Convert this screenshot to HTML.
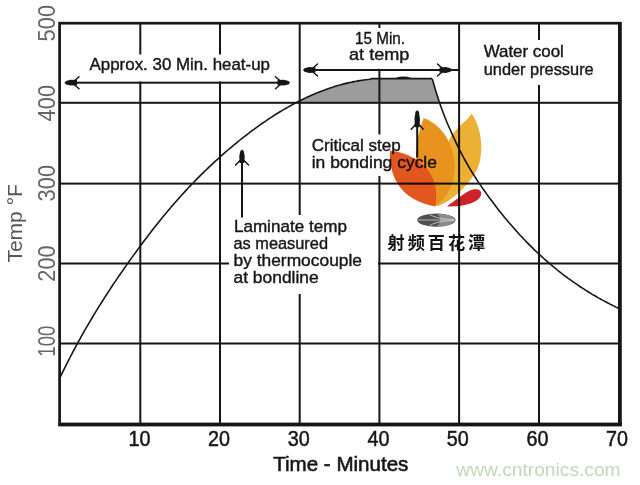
<!DOCTYPE html>
<html><head><meta charset="utf-8"><style>
html,body{margin:0;padding:0;background:#fff;}
svg{display:block;}
text{font-family:'Liberation Sans',sans-serif;}
</style></head><body>
<svg width="640" height="485" viewBox="0 0 640 485">
<rect width="640" height="485" fill="#fff"/>
<path d="M300.0,102.8 300.0,100.7 302.0,99.7 304.0,98.7 306.0,97.8 308.0,96.8 310.0,95.9 312.0,95.0 314.0,94.2 316.0,93.3 318.0,92.5 320.0,91.7 322.0,90.9 324.0,90.2 326.0,89.4 328.0,88.7 330.0,88.1 332.0,87.4 334.0,86.8 336.0,86.1 338.0,85.5 340.0,85.0 342.0,84.4 344.0,83.9 346.0,83.4 348.0,82.9 350.0,82.5 352.0,82.1 354.0,81.6 356.0,81.3 358.0,80.9 360.0,80.6 362.0,80.3 364.0,80.0 366.0,79.7 368.0,79.5 370.0,79.3 372.0,78.6 374.0,78.6 376.0,78.6 378.0,78.6 380.0,78.6 432.4,78.6 432.4,79.1 433.9,84.5 435.4,89.7 436.9,94.6 438.4,99.3 438.8,102.8 Z" fill="#9c9c9c"/>
<rect x="139.3" y="22" width="2" height="402" fill="#161616"/>
<rect x="219.0" y="22" width="2" height="402" fill="#161616"/>
<rect x="298.7" y="22" width="2" height="402" fill="#161616"/>
<rect x="378.4" y="22" width="2" height="402" fill="#161616"/>
<rect x="458.1" y="22" width="2" height="402" fill="#161616"/>
<rect x="538.0" y="22" width="2" height="402" fill="#161616"/>
<rect x="59" y="101.8" width="561" height="2" fill="#161616"/>
<rect x="59" y="182.6" width="561" height="2" fill="#161616"/>
<rect x="59" y="262.5" width="561" height="2" fill="#161616"/>
<rect x="59" y="342.5" width="561" height="2" fill="#161616"/>
<rect x="84.0" y="54.5" width="192.0" height="27.0" fill="#fff"/>
<rect x="342.0" y="28.0" width="76.0" height="40.8" fill="#fff"/>
<rect x="478.0" y="40.0" width="120.0" height="45.0" fill="#fff"/>
<rect x="305.0" y="134.5" width="135.0" height="41.5" fill="#fff"/>
<rect x="229.0" y="215.0" width="149.0" height="79.0" fill="#fff"/>
<path d="M60.0,377.5 62.0,373.4 64.0,369.3 66.0,365.3 68.0,361.4 70.0,357.5 72.0,353.6 74.0,349.9 76.0,346.1 78.0,342.4 80.0,338.8 82.0,335.2 84.0,331.7 86.0,328.2 88.0,324.8 90.0,321.4 92.0,318.0 94.0,314.7 96.0,311.4 98.0,308.1 100.0,304.9 102.0,301.8 104.0,298.6 106.0,295.5 108.0,292.4 110.0,289.4 112.0,286.3 114.0,283.3 116.0,280.4 118.0,277.4 120.0,274.5 122.0,271.6 124.0,268.7 126.0,265.9 128.0,263.0 130.0,260.2 132.0,257.4 134.0,254.6 136.0,251.9 138.0,249.1 140.0,246.4 142.0,243.7 144.0,241.1 146.0,238.4 148.0,235.8 150.0,233.2 152.0,230.6 154.0,228.0 156.0,225.5 158.0,223.0 160.0,220.5 162.0,218.0 164.0,215.6 166.0,213.2 168.0,210.8 170.0,208.4 172.0,206.1 174.0,203.8 176.0,201.5 178.0,199.2 180.0,197.0 182.0,194.8 184.0,192.6 186.0,190.4 188.0,188.3 190.0,186.1 192.0,184.0 194.0,182.0 196.0,179.9 198.0,177.9 200.0,175.9 202.0,173.9 204.0,171.9 206.0,170.0 208.0,168.1 210.0,166.2 212.0,164.3 214.0,162.4 216.0,160.6 218.0,158.8 220.0,157.0 222.0,155.2 224.0,153.4 226.0,151.7 228.0,150.0 230.0,148.3 232.0,146.6 234.0,144.9 236.0,143.3 238.0,141.6 240.0,140.0 242.0,138.4 244.0,136.9 246.0,135.3 248.0,133.8 250.0,132.2 252.0,130.7 254.0,129.3 256.0,127.8 258.0,126.4 260.0,124.9 262.0,123.5 264.0,122.1 266.0,120.8 268.0,119.4 270.0,118.1 272.0,116.8 274.0,115.5 276.0,114.2 278.0,113.0 280.0,111.8 282.0,110.6 284.0,109.4 286.0,108.2 288.0,107.1 290.0,106.0 292.0,104.9 294.0,103.8 296.0,102.7 298.0,101.7 300.0,100.7 302.0,99.7 304.0,98.7 306.0,97.8 308.0,96.8 310.0,95.9 312.0,95.0 314.0,94.2 316.0,93.3 318.0,92.5 320.0,91.7 322.0,90.9 324.0,90.2 326.0,89.4 328.0,88.7 330.0,88.1 332.0,87.4 334.0,86.8 336.0,86.1 338.0,85.5 340.0,85.0 342.0,84.4 344.0,83.9 346.0,83.4 348.0,82.9 350.0,82.5 352.0,82.1 354.0,81.6 356.0,81.3 358.0,80.9 360.0,80.6 362.0,80.3 364.0,80.0 366.0,79.7 368.0,79.5 370.0,79.3 372.0,78.6 374.0,78.6 376.0,78.6 378.0,78.6 380.0,78.6 L432.4,78.6" fill="none" stroke="#161616" stroke-width="1.6" stroke-linejoin="round"/>
<path d="M432.4,79.1 433.9,84.5 435.4,89.7 436.9,94.6 438.4,99.3 439.9,103.8 441.4,108.0 442.9,112.1 444.4,116.0 445.9,119.8 447.4,123.5 449.0,127.0 450.5,130.5 452.0,133.9 453.5,137.2 455.0,140.4 456.5,143.6 458.0,146.7 459.5,149.7 461.0,152.6 462.5,155.5 464.0,158.3 465.5,161.0 467.0,163.7 468.5,166.3 470.0,168.8 471.5,171.3 473.0,173.8 474.5,176.2 476.0,178.5 477.5,180.9 479.0,183.1 480.6,185.4 482.1,187.6 483.6,189.7 485.1,191.8 486.6,193.9 488.1,196.0 489.6,198.1 491.1,200.1 492.6,202.1 494.1,204.1 495.6,206.0 497.1,208.0 498.6,209.9 500.1,211.8 501.6,213.7 503.1,215.5 504.6,217.4 506.1,219.2 507.6,221.0 509.1,222.8 510.7,224.5 512.2,226.3 513.7,228.0 515.2,229.7 516.7,231.4 518.2,233.0 519.7,234.7 521.2,236.3 522.7,237.9 524.2,239.5 525.7,241.0 527.2,242.6 528.7,244.1 530.2,245.6 531.7,247.1 533.2,248.6 534.7,250.1 536.2,251.5 537.7,252.9 539.2,254.3 540.7,255.7 542.3,257.1 543.8,258.5 545.3,259.8 546.8,261.1 548.3,262.4 549.8,263.7 551.3,265.0 552.8,266.3 554.3,267.5 555.8,268.7 557.3,270.0 558.8,271.2 560.3,272.3 561.8,273.5 563.3,274.7 564.8,275.8 566.3,276.9 567.8,278.1 569.3,279.2 570.8,280.2 572.4,281.3 573.9,282.4 575.4,283.4 576.9,284.4 578.4,285.5 579.9,286.5 581.4,287.5 582.9,288.4 584.4,289.4 585.9,290.4 587.4,291.3 588.9,292.2 590.4,293.1 591.9,294.1 593.4,295.0 594.9,295.8 596.4,296.7 597.9,297.6 599.4,298.4 600.9,299.3 602.4,300.1 604.0,300.9 605.5,301.7 607.0,302.5 608.5,303.3 610.0,304.1 611.5,304.8 613.0,305.6 614.5,306.3 616.0,307.1 617.5,307.8 619.0,308.5" fill="none" stroke="#161616" stroke-width="1.6" stroke-linejoin="round"/>
<path d="M396,78.6 Q403,76 411,78.6" fill="none" stroke="#161616" stroke-width="1.4"/>
<rect x="66" y="81.7" width="222" height="2" fill="#161616"/>
<g transform="translate(65.5,82.7) rotate(180)"><path d="M1,0 L-0.5,-1.7 L-5.2,-2.9 L-11.5,-2.6 L-11.5,2.6 L-5.2,2.9 L-0.5,1.7 Z" fill="#161616"/><path d="M-9.0,-2 L-13.5,-6.0 M-9.0,2 L-13.5,6.0" stroke="#161616" stroke-width="1.5" stroke-linecap="round" fill="none"/></g>
<g transform="translate(289.0,82.7) rotate(0)"><path d="M1,0 L-0.5,-1.7 L-5.2,-2.9 L-11.5,-2.6 L-11.5,2.6 L-5.2,2.9 L-0.5,1.7 Z" fill="#161616"/><path d="M-9.0,-2 L-13.5,-6.0 M-9.0,2 L-13.5,6.0" stroke="#161616" stroke-width="1.5" stroke-linecap="round" fill="none"/></g>
<rect x="304" y="69" width="155" height="2" fill="#161616"/>
<g transform="translate(304.0,70.0) rotate(180)"><path d="M1,0 L-0.5,-1.7 L-5.2,-2.9 L-11.5,-2.6 L-11.5,2.6 L-5.2,2.9 L-0.5,1.7 Z" fill="#161616"/><path d="M-9.0,-2 L-13.5,-6.0 M-9.0,2 L-13.5,6.0" stroke="#161616" stroke-width="1.5" stroke-linecap="round" fill="none"/></g>
<g transform="translate(451.0,70.0) rotate(0)"><path d="M1,0 L-0.5,-1.7 L-5.2,-2.9 L-11.5,-2.6 L-11.5,2.6 L-5.2,2.9 L-0.5,1.7 Z" fill="#161616"/><path d="M-9.0,-2 L-13.5,-6.0 M-9.0,2 L-13.5,6.0" stroke="#161616" stroke-width="1.5" stroke-linecap="round" fill="none"/></g>
<rect x="241" y="152" width="2" height="65.5" fill="#161616"/>
<g transform="translate(242.0,150.5) rotate(-90)"><path d="M1,0 L-0.5,-1.7 L-5.6,-2.7 L-12.5,-2.4 L-12.5,2.4 L-5.6,2.7 L-0.5,1.7 Z" fill="#161616"/><path d="M-10.0,-2 L-14.5,-6.5 M-10.0,2 L-14.5,6.5" stroke="#161616" stroke-width="1.5" stroke-linecap="round" fill="none"/></g>
<rect x="416.2" y="113" width="2" height="44.5" fill="#161616"/>
<g transform="translate(417.2,111.2) rotate(-90)"><path d="M1,0 L-0.5,-1.7 L-7.2,-2.7 L-16.0,-2.4 L-16.0,2.4 L-7.2,2.7 L-0.5,1.7 Z" fill="#161616"/><path d="M-13.5,-2 L-18.0,-6.0 M-13.5,2 L-18.0,6.0" stroke="#161616" stroke-width="1.5" stroke-linecap="round" fill="none"/></g>
<rect x="59.6" y="23.2" width="560" height="401.2" fill="none" stroke="#161616" stroke-width="2.7"/>
<rect x="58.3" y="422.6" width="563.5" height="3.8" fill="#161616"/>
<rect x="618" y="22" width="3.8" height="404" fill="#161616"/>
<text x="89.5" y="70.4" font-size="17.0" textLength="180.5" lengthAdjust="spacingAndGlyphs" fill="#161616" stroke="#161616" stroke-width="0.40" >Approx. 30 Min. heat-up</text>
<text x="355.0" y="43.8" font-size="17.2" textLength="50.0" lengthAdjust="spacingAndGlyphs" fill="#161616" stroke="#161616" stroke-width="0.40" >15 Min.</text>
<text x="349.0" y="60.0" font-size="17.2" textLength="60.4" lengthAdjust="spacingAndGlyphs" fill="#161616" stroke="#161616" stroke-width="0.40" >at temp</text>
<text x="483.7" y="57.2" font-size="17.0" textLength="80.2" lengthAdjust="spacingAndGlyphs" fill="#161616" stroke="#161616" stroke-width="0.40" >Water cool</text>
<text x="483.7" y="75.2" font-size="17.0" textLength="110.0" lengthAdjust="spacingAndGlyphs" fill="#161616" stroke="#161616" stroke-width="0.40" >under pressure</text>
<text x="311.7" y="150.8" font-size="16.8" textLength="89.0" lengthAdjust="spacingAndGlyphs" fill="#161616" stroke="#161616" stroke-width="0.40" >Critical step</text>
<text x="311.7" y="167.7" font-size="16.8" textLength="125.3" lengthAdjust="spacingAndGlyphs" fill="#161616" stroke="#161616" stroke-width="0.40" >in bonding cycle</text>
<text x="233.9" y="231.5" font-size="17.4" textLength="113.0" lengthAdjust="spacingAndGlyphs" fill="#161616" stroke="#161616" stroke-width="0.40" >Laminate temp</text>
<text x="233.5" y="248.7" font-size="17.4" textLength="94.5" lengthAdjust="spacingAndGlyphs" fill="#161616" stroke="#161616" stroke-width="0.40" >as measured</text>
<text x="233.5" y="266.0" font-size="17.4" textLength="128.5" lengthAdjust="spacingAndGlyphs" fill="#161616" stroke="#161616" stroke-width="0.40" >by thermocouple</text>
<text x="233.5" y="283.0" font-size="17.4" textLength="85.2" lengthAdjust="spacingAndGlyphs" fill="#161616" stroke="#161616" stroke-width="0.40" >at bondline</text>
<text x="139.5" y="445.8" font-size="22" text-anchor="middle" fill="#161616" stroke="#161616" stroke-width="0.5" textLength="22" lengthAdjust="spacingAndGlyphs">10</text>
<text x="218.9" y="445.8" font-size="22" text-anchor="middle" fill="#161616" stroke="#161616" stroke-width="0.5" textLength="22" lengthAdjust="spacingAndGlyphs">20</text>
<text x="298.7" y="445.8" font-size="22" text-anchor="middle" fill="#161616" stroke="#161616" stroke-width="0.5" textLength="22" lengthAdjust="spacingAndGlyphs">30</text>
<text x="378.5" y="445.8" font-size="22" text-anchor="middle" fill="#161616" stroke="#161616" stroke-width="0.5" textLength="22" lengthAdjust="spacingAndGlyphs">40</text>
<text x="457.8" y="445.8" font-size="22" text-anchor="middle" fill="#161616" stroke="#161616" stroke-width="0.5" textLength="22" lengthAdjust="spacingAndGlyphs">50</text>
<text x="537.5" y="445.8" font-size="22" text-anchor="middle" fill="#161616" stroke="#161616" stroke-width="0.5" textLength="22" lengthAdjust="spacingAndGlyphs">60</text>
<text x="617.0" y="445.8" font-size="22" text-anchor="middle" fill="#161616" stroke="#161616" stroke-width="0.5" textLength="22" lengthAdjust="spacingAndGlyphs">70</text>
<text x="273.2" y="471.4" font-size="21.0" textLength="135.2" lengthAdjust="spacingAndGlyphs" fill="#161616" stroke="#161616" stroke-width="0.60" >Time - Minutes</text>
<text transform="translate(54.6,23.2) rotate(-90)" x="0" y="0" font-size="23" text-anchor="middle" fill="#666" textLength="36.5" lengthAdjust="spacingAndGlyphs">500</text>
<text transform="translate(54.6,103.2) rotate(-90)" x="0" y="0" font-size="23" text-anchor="middle" fill="#666" textLength="36.5" lengthAdjust="spacingAndGlyphs">400</text>
<text transform="translate(54.6,183.2) rotate(-90)" x="0" y="0" font-size="23" text-anchor="middle" fill="#666" textLength="36.5" lengthAdjust="spacingAndGlyphs">300</text>
<text transform="translate(54.6,263.5) rotate(-90)" x="0" y="0" font-size="23" text-anchor="middle" fill="#666" textLength="36.5" lengthAdjust="spacingAndGlyphs">200</text>
<text transform="translate(54.6,341.2) rotate(-90)" x="0" y="0" font-size="23" text-anchor="middle" fill="#666" textLength="31.0" lengthAdjust="spacingAndGlyphs">100</text>
<text transform="translate(21.8,262.6) rotate(-90)" x="0" y="0" font-size="21" fill="#555" textLength="78.5" lengthAdjust="spacingAndGlyphs">Temp °F</text>
<text x="456.3" y="475.6" font-size="19" fill="#c3d8bb" textLength="164.3" lengthAdjust="spacingAndGlyphs">www.cntronics.com</text>

<g style="mix-blend-mode:multiply">
 <path d="M471.7,113.7 C466,122 455,128 449,140 C444,152 441,180 436.6,206.3 C450,203 470,185 477.8,167.8 C484,152 482,128 471.7,113.7 Z" fill="#ecb134"/>
 <path d="M423.7,118 C440,124 452,140 454.5,162 C456,182 448,197 435.6,206 C424,196 416,178 416,160 C416,140 420,128 423.7,118 Z" fill="#e8931e"/>
 <path d="M390,150.8 C412,153 430,166 435,184 C437,194 436,201 435.5,206.5 C420,204 404,196 396.5,181.8 C391,172 389.5,160 390,150.8 Z" fill="#e3561d"/>
 <path d="M447,206.2 C455,201 465,191.5 473,189.5 C479,188.2 482,190.5 481,195 C480,200 472,204 461,205.8 C455,206.5 450,206.5 447,206.2 Z" fill="#cc2228"/>
</g>
<g>
 <ellipse cx="436.3" cy="220.1" rx="19.2" ry="6.6" fill="#505050"/>
 <path d="M436.3,213.6 C448,214 455.4,217 455.4,220.1 C455.4,223 448,226.6 436.3,226.6 C441,224 442,216 436.3,213.6 Z" fill="#8a8a8a"/>
 <path d="M418,220 L454,220" stroke="#bdbdbd" stroke-width="0.9" fill="none"/>
 <path d="M429,213.9 C433,217 440,219 454,219.6 M429,226.3 C433,223 440,221 454,220.6" stroke="#c8c8c8" stroke-width="0.9" fill="none"/>
 <text x="387.6" y="248.6" fill="#111" style="font-family:'Liberation Sans','Noto Sans CJK SC',sans-serif;font-weight:700;font-size:17.2px" textLength="97.6" lengthAdjust="spacing">射频百花潭</text>
</g>

</svg>
</body></html>
